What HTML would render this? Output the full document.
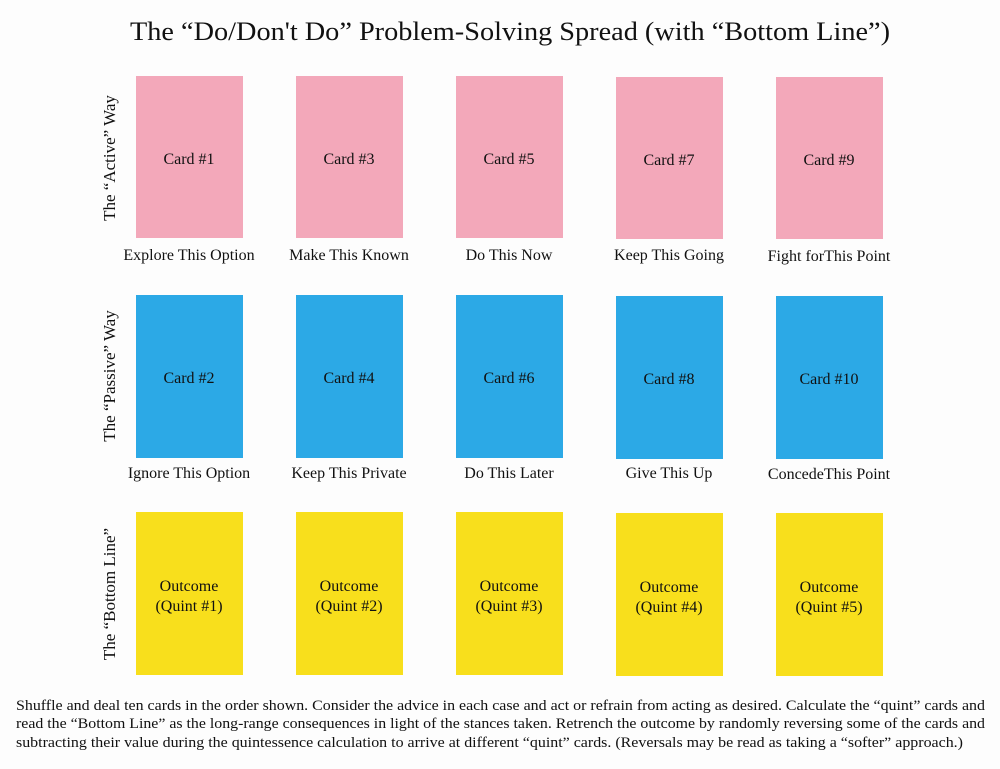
<!DOCTYPE html>
<html><head><meta charset="utf-8"><style>
html,body{margin:0;padding:0;background:#fff;}
svg{display:block;}
text{font-family:"Liberation Serif",serif;fill:#111;}
</style></head><body>
<svg width="1000" height="769" viewBox="0 0 1000 769" xmlns="http://www.w3.org/2000/svg">
<rect width="1000" height="769" fill="#fdfdfd"/>
<text x="510" y="40" font-size="26" text-anchor="middle" textLength="760" lengthAdjust="spacingAndGlyphs" fill="#1a1a3a">The “Do/Don't Do” Problem-Solving Spread (with “Bottom Line”)</text>

<g font-size="17">
<text transform="translate(115,158) rotate(-90)" text-anchor="middle">The “Active” Way</text>
<text transform="translate(115,376) rotate(-90)" text-anchor="middle">The “Passive” Way</text>
<text transform="translate(115,594) rotate(-90)" text-anchor="middle">The “Bottom Line”</text>
</g>

<g fill="#f3a8ba">
<rect x="136" y="76" width="107" height="162"/><rect x="296" y="76" width="107" height="162"/><rect x="456" y="76" width="107" height="162"/><rect x="616" y="77" width="107" height="162"/><rect x="776" y="77" width="107" height="162"/>
</g>
<g fill="#2ca9e6">
<rect x="136" y="295" width="107" height="163"/><rect x="296" y="295" width="107" height="163"/><rect x="456" y="295" width="107" height="163"/><rect x="616" y="296" width="107" height="163"/><rect x="776" y="296" width="107" height="163"/>
</g>
<g fill="#f8df1c">
<rect x="136" y="512" width="107" height="163"/><rect x="296" y="512" width="107" height="163"/><rect x="456" y="512" width="107" height="163"/><rect x="616" y="513" width="107" height="163"/><rect x="776" y="513" width="107" height="163"/>
</g>

<g font-size="16" text-anchor="middle">
<text x="189" y="164">Card #1</text><text x="349" y="164">Card #3</text><text x="509" y="164">Card #5</text><text x="669" y="165">Card #7</text><text x="829" y="165">Card #9</text>
<text x="189" y="383">Card #2</text><text x="349" y="383">Card #4</text><text x="509" y="383">Card #6</text><text x="669" y="384">Card #8</text><text x="829" y="384">Card #10</text>
<text x="189" y="591">Outcome</text><text x="349" y="591">Outcome</text><text x="509" y="591">Outcome</text><text x="669" y="592">Outcome</text><text x="829" y="592">Outcome</text>
<text x="189" y="611">(Quint #1)</text><text x="349" y="611">(Quint #2)</text><text x="509" y="611">(Quint #3)</text><text x="669" y="612">(Quint #4)</text><text x="829" y="612">(Quint #5)</text>
<text x="189" y="260">Explore This Option</text><text x="349" y="260">Make This Known</text><text x="509" y="260">Do This Now</text><text x="669" y="260">Keep This Going</text><text x="829" y="261">Fight forThis Point</text>
<text x="189" y="478">Ignore This Option</text><text x="349" y="478">Keep This Private</text><text x="509" y="478">Do This Later</text><text x="669" y="478">Give This Up</text><text x="829" y="479">ConcedeThis Point</text>
</g>

<g font-size="15">
<text x="16" y="710" textLength="969" lengthAdjust="spacingAndGlyphs">Shuffle and deal ten cards in the order shown. Consider the advice in each case and act or refrain from acting as desired. Calculate the “quint” cards and</text>
<text x="16" y="728" textLength="969" lengthAdjust="spacingAndGlyphs">read the “Bottom Line” as the long-range consequences in light of the stances taken. Retrench the outcome by randomly reversing some of the cards and</text>
<text x="16" y="747" textLength="947" lengthAdjust="spacingAndGlyphs">subtracting their value during the quintessence calculation to arrive at different “quint” cards. (Reversals may be read as taking a “softer” approach.)</text>
</g>
</svg>
</body></html>
